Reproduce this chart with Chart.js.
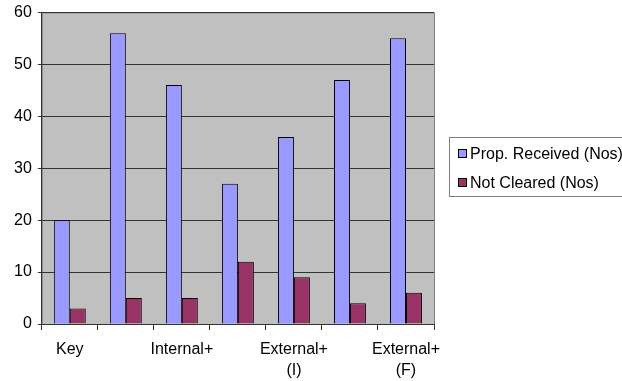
<!DOCTYPE html>
<html>
<head>
<meta charset="utf-8">
<script src="https://cdn.jsdelivr.net/npm/chart.js@4/dist/chart.umd.min.js"></script>
<style>
  html, body { margin: 0; padding: 0; background: #ffffff; }
  #wrap { width: 622px; height: 381px; }
</style>
</head>
<body>
<div id="wrap"><canvas id="c" width="622" height="381"></canvas></div>
<script>
// Category labels (only every other one is printed on the axis)
const categories = ['Key', '', 'Internal+', '', ['External+', '(I)'], '', ['External+', '(F)']];
// Series values
const propReceived = [20, 56, 46, 27, 36, 47, 55];
const notCleared = [3, 5, 5, 12, 9, 4, 6];
// Value axis
const yMin = 0;
const yMax = 60;
const yStep = 10;

const FONT = 'Liberation Sans, Arial, sans-serif';

// Grey plot background with a thin frame
const plotBackground = {
  id: 'plotBackground',
  beforeDraw(chart) {
    const { ctx, chartArea: a } = chart;
    ctx.save();
    ctx.fillStyle = '#c0c0c0';
    ctx.fillRect(a.left, a.top, a.right - a.left, a.bottom - a.top);
    ctx.strokeStyle = '#808080';
    ctx.lineWidth = 1;
    ctx.strokeRect(a.left + 0.5, a.top + 0.5, a.right - a.left, a.bottom - a.top);
    ctx.restore();
  }
};

// Boxed legend to the right of the plot
const boxedLegend = {
  id: 'boxedLegend',
  afterDraw(chart) {
    const { ctx } = chart;
    const x = 449, y = 137, w = 200, h = 59;
    ctx.save();
    ctx.fillStyle = '#ffffff';
    ctx.fillRect(x, y, w, h);
    ctx.strokeStyle = '#808080';
    ctx.lineWidth = 1;
    ctx.strokeRect(x + 0.5, y + 0.5, w, h);
    ctx.font = '16px ' + FONT;
    ctx.textBaseline = 'middle';
    chart.data.datasets.forEach((ds, i) => {
      const cy = y + 17 + i * 29;
      ctx.fillStyle = ds.backgroundColor;
      ctx.fillRect(458.5, cy - 4.5, 8, 8);
      ctx.strokeStyle = '#000000';
      ctx.strokeRect(458.5, cy - 4.5, 8, 8);
      ctx.fillStyle = '#000000';
      ctx.fillText(ds.label, 470, cy + 1);
    });
    ctx.restore();
  }
};

new Chart(document.getElementById('c'), {
  type: 'bar',
  data: {
    labels: categories,
    datasets: [
      {
        label: 'Prop. Received (Nos)',
        data: propReceived,
        backgroundColor: '#9999ff',
        borderColor: '#000000',
        borderWidth: 1
      },
      {
        label: 'Not Cleared (Nos)',
        data: notCleared,
        backgroundColor: '#993366',
        borderColor: '#000000',
        borderWidth: 1
      }
    ]
  },
  options: {
    responsive: false,
    animation: false,
    devicePixelRatio: 1,
    layout: { padding: { top: 0, right: 188, bottom: 0, left: 8 } },
    datasets: { bar: { categoryPercentage: 0.57, barPercentage: 1 } },
    plugins: {
      legend: { display: false },
      tooltip: { enabled: false }
    },
    scales: {
      x: {
        offset: true,
        afterFit(scale) { scale.height = 57; },
        grid: { offset: true, drawOnChartArea: false, tickLength: 6, color: '#333333' },
        border: { color: '#333333' },
        ticks: {
          autoSkip: false,
          maxRotation: 0,
          padding: 9,
          color: '#000000',
          font: { family: FONT, size: 16, lineHeight: 1.3 }
        }
      },
      y: {
        min: yMin,
        max: yMax,
        grid: { color: '#333333', tickLength: 4 },
        border: { color: '#333333' },
        ticks: {
          stepSize: yStep,
          padding: 6,
          color: '#000000',
          font: { family: FONT, size: 16, lineHeight: 0.8 }
        }
      }
    }
  },
  plugins: [plotBackground, boxedLegend]
});
</script>
</body>
</html>
